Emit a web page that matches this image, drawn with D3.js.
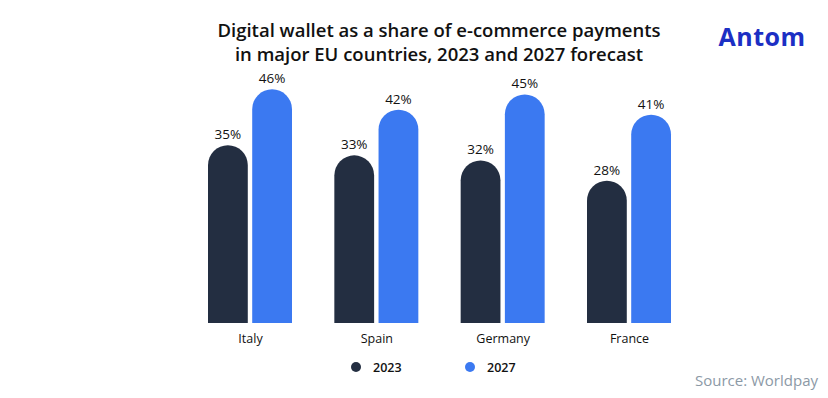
<!DOCTYPE html>
<html>
    <head>
        <script src="https://cdnjs.cloudflare.com/ajax/libs/d3/7.8.5/d3.min.js"></script>
        <title>Digital wallet share</title>
        <style>
            html, body {
                margin: 0;
                background: #ffffff;
            }
            .svg_canvas {
                display: block;
                font-family: "Open Sans", "Noto Sans", sans-serif;
            }
        </style>
    </head>
    <body>
        <svg height="398" width="828" class="svg_canvas"></svg>

        <script>
            var countries = ["Italy", "Spain", "Germany", "France"];
            var years = ["2023", "2027"];
            var share2023 = [35, 33, 32, 28];
            var share2027 = [46, 42, 45, 41];
            var colors = ["#232e41", "#3b79f1"];

            var data = countries.map(function(c, i) {
                return {country: c, values: [
                    {year: years[0], value: share2023[i]},
                    {year: years[1], value: share2027[i]}
                ]};
            });

            var svg = d3.select(".svg_canvas");

            var x = d3.scalePoint()
                .domain(countries)
                .range([250, 629]);

            var xInner = d3.scaleBand()
                .domain(years)
                .range([-42, 42])
                .paddingInner(0.1);

            var color = d3.scaleOrdinal()
                .domain(years)
                .range(colors);

            var y = d3.scaleLinear()
                .domain([0, 50])
                .range([323, 69]);

            // title
            var title = svg.append("text")
                .attr("text-anchor", "middle")
                .style("font-size", "18.5px")
                .style("font-weight", 600)
                .style("fill", "#111");
            title.append("tspan").attr("x", 439).attr("y", 37)
                .text("Digital wallet as a share of e-commerce payments");
            title.append("tspan").attr("x", 439).attr("y", 61)
                .text("in major EU countries, 2023 and 2027 forecast");

            // logo
            svg.append("text")
                .attr("x", 762)
                .attr("y", 46)
                .attr("text-anchor", "middle")
                .style("font-size", "25px")
                .style("font-weight", 700)
                .style("letter-spacing", "0.5px")
                .style("fill", "#1c2fc4")
                .text("Antom");

            function barPath(x0, w, top, base) {
                var r = w / 2;
                return "M" + x0 + "," + base +
                    "V" + (top + r) +
                    "A" + r + "," + r + " 0 0 1 " + (x0 + w) + "," + (top + r) +
                    "V" + base + "Z";
            }

            var groups = svg.selectAll(".group")
                .data(data)
                .enter()
                .append("g")
                .attr("class", "group")
                .attr("transform", function(d) { return "translate(" + x(d.country) + ",0)"; });

            groups.selectAll("path")
                .data(function(d) { return d.values; })
                .enter()
                .append("path")
                .attr("d", function(d) {
                    return barPath(xInner(d.year), xInner.bandwidth(), y(d.value), y(0));
                })
                .style("fill", function(d) { return color(d.year); });

            groups.selectAll(".val")
                .data(function(d) { return d.values; })
                .enter()
                .append("text")
                .attr("class", "val")
                .attr("x", function(d) { return xInner(d.year) + xInner.bandwidth() / 2; })
                .attr("y", function(d) { return y(d.value) - 6; })
                .attr("text-anchor", "middle")
                .style("font-size", "13.5px")
                .style("fill", "#111")
                .text(function(d) { return d.value + "%"; });

            // axis labels
            var xAxis = svg.append("g")
                .attr("transform", "translate(0," + y(0) + ")")
                .call(d3.axisBottom(x).tickSize(0).tickPadding(11));
            xAxis.select(".domain").remove();
            xAxis.selectAll("text")
                .style("font-family", "\"Open Sans\", sans-serif")
                .style("font-size", "12.5px")
                .style("fill", "#111");

            // legend
            var legendX = d3.scaleOrdinal().domain(years).range([356, 470]);
            var legend = svg.selectAll(".legend")
                .data(years)
                .enter()
                .append("g")
                .attr("class", "legend")
                .attr("transform", function(d) { return "translate(" + legendX(d) + ",367)"; });
            legend.append("circle")
                .attr("r", 5)
                .style("fill", function(d) { return color(d); });
            legend.append("text")
                .attr("x", 17)
                .attr("y", 4.5)
                .style("font-size", "12.5px")
                .style("font-weight", 600)
                .style("fill", "#111")
                .text(function(d) { return d; });

            // source
            svg.append("text")
                .attr("x", 818)
                .attr("y", 386)
                .attr("text-anchor", "end")
                .style("font-size", "15px")
                .style("fill", "#8c99a6")
                .text("Source: Worldpay");
        </script>
    </body>
</html>
